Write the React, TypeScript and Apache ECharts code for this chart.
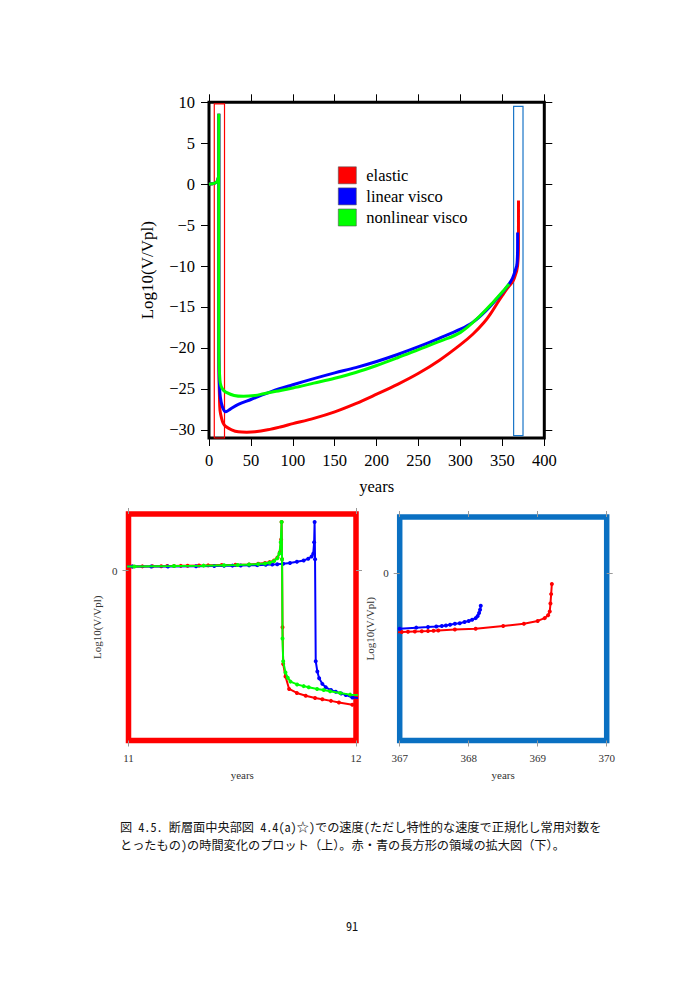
import React, { useEffect, useRef } from "react";
import * as echarts from "echarts";

// ---------------- data (years, log10(V/Vpl)) ----------------
const elasticYears = [0, 3, 6, 9, 10.5, 11.017, 11.061, 11.105, 11.144, 11.17, 11.2, 11.23, 11.26, 11.31, 11.35, 11.41, 11.47, 11.53, 11.57, 11.6, 11.62, 11.64, 11.655, 11.665, 11.671, 11.673, 11.675, 11.677, 11.68, 11.69, 11.706, 11.74, 11.779, 11.82, 11.852, 11.89, 11.925, 11.984, 12.5, 13.1, 15, 17, 20, 27, 35, 45, 55, 70, 85, 100, 125, 150, 175, 200, 225, 250, 275, 300, 315, 328, 336, 343.5, 350, 355.4, 360, 363.4, 367.03, 367.12, 367.22, 367.32, 367.41, 367.49, 367.56, 367.8, 368.1, 368.5, 368.8, 369.0, 369.1, 369.15, 369.175, 369.185, 369.195, 369.205];
const elasticLog = [0.0, 0.05, 0.1, 0.25, 0.5, 0.74, 0.75, 0.76, 0.78, 0.8, 0.82, 0.84, 0.86, 0.9, 0.93, 0.98, 1.03, 1.1, 1.2, 1.35, 1.5, 1.8, 2.3, 3.2, 5.5, 8.6, 2.0, -10.0, -16.5, -18.7, -20.9, -21.6, -22.1, -22.5, -22.7, -23.0, -23.3, -23.7, -26.0, -27.6, -28.6, -29.2, -29.6, -30.0, -30.25, -30.3, -30.25, -30.0, -29.65, -29.25, -28.6, -27.8, -26.8, -25.65, -24.45, -23.1, -21.5, -19.6, -18.3, -16.9, -15.8, -14.6, -13.6, -12.8, -12.2, -11.7, -10.6, -10.55, -10.5, -10.45, -10.4, -10.35, -10.3, -10.15, -10.0, -9.5, -9.1, -8.6, -8.1, -7.6, -6.9, -5.5, -3.8, -2.0];

const linearYears = [0, 3, 6, 9, 10.5, 11.017, 11.1, 11.173, 11.297, 11.377, 11.42, 11.457, 11.493, 11.53, 11.566, 11.603, 11.632, 11.654, 11.68, 11.71, 11.74, 11.77, 11.79, 11.805, 11.812, 11.816, 11.818, 11.82, 11.823, 11.83, 11.838, 11.852, 11.867, 11.89, 11.911, 11.935, 11.955, 11.984, 12.5, 13.5, 16, 20, 25, 35, 50, 75, 100, 125, 150, 175, 200, 225, 250, 275, 300, 315, 330, 343.5, 355, 362, 367.0, 367.24, 367.41, 367.53, 367.61, 367.67, 367.73, 367.8, 367.87, 367.94, 368.0, 368.05, 368.1, 368.13, 368.15, 368.165, 368.175];
const linearLog = [0.0, 0.05, 0.1, 0.25, 0.5, 0.74, 0.72, 0.72, 0.78, 0.82, 0.85, 0.88, 0.9, 0.93, 0.97, 1.02, 1.07, 1.12, 1.2, 1.35, 1.55, 1.8, 2.1, 2.5, 3.0, 5.0, 8.6, 2.0, -16.0, -17.8, -19.0, -20.0, -20.6, -21.1, -21.4, -21.7, -21.95, -22.4, -24.5, -26.0, -27.2, -27.8, -27.5, -26.9, -26.3, -25.3, -24.5, -23.75, -23.05, -22.4, -21.65, -20.8, -19.85, -18.8, -17.7, -16.85, -15.5, -14.0, -12.6, -11.5, -10.0, -9.8, -9.7, -9.6, -9.5, -9.4, -9.3, -9.1, -9.0, -8.8, -8.6, -8.4, -8.1, -7.7, -7.2, -6.6, -5.9];

const nonlinearYears = [0, 3, 6, 9, 10.5, 11.026, 11.2, 11.33, 11.42, 11.48, 11.53, 11.57, 11.6, 11.62, 11.64, 11.654, 11.663, 11.669, 11.673, 11.675, 11.677, 11.68, 11.69, 11.7, 11.712, 11.741, 11.77, 11.792, 11.829, 11.858, 11.886, 11.93, 11.974, 12.5, 13.5, 16, 20, 30, 41, 55, 65, 80, 100, 125, 150, 175, 200, 225, 250, 275, 300, 323, 340, 351.4, 358];
const nonlinearLog = [0.0, 0.05, 0.1, 0.25, 0.5, 0.74, 0.8, 0.88, 0.95, 1.0, 1.08, 1.15, 1.25, 1.4, 1.7, 2.2, 3.0, 5.0, 8.6, 2.0, -12.0, -16.0, -18.0, -18.9, -19.6, -20.1, -20.4, -20.6, -20.9, -21.1, -21.3, -21.6, -21.9, -23.0, -24.3, -25.0, -25.4, -25.8, -25.9, -25.8, -25.6, -25.3, -24.9, -24.3, -23.7, -23.0, -22.15, -21.2, -20.2, -19.2, -18.1, -16.1, -14.3, -13.0, -12.2];

const seriesNames = ["elastic", "linear visco", "nonlinear visco"];
const seriesColors = ["#ff0000", "#0000ff", "#00ff00"];

const mainYTicks = [10, 5, 0, -5, -10, -15, -20, -25, -30];

// zoomed boxes (years / log values)
const redBox = { x0: 6.3, x1: 18.5, y0: -31, y1: 9.8 };
const blueBox = { x0: 363.4, x1: 374.6, y0: -30.7, y1: 9.5 };

const captionLine1 = "図 4.5. 断層面中央部図 4.4(a)☆)での速度(ただし特性的な速度で正規化し常用対数を";
const captionLine2 = "とったもの)の時間変化のプロット（上）。赤・青の長方形の領域の拡大図（下）。";
const pageNumber = "91";

const zip = (xs: number[], ys: number[]) => xs.map((x, i) => [x, ys[i]]);

const SERIF = "'Liberation Serif', 'Times New Roman', serif";
const CJK = "'Noto Sans Mono CJK JP', 'Noto Sans CJK JP', monospace";
const minusFmt = (v: number) => String(v).replace("-", "\u2212");

export default function App() {
  const ref = useRef<HTMLDivElement>(null);

  useEffect(() => {
    if (!ref.current) return;
    const chart = echarts.init(ref.current, undefined, { renderer: "svg" });
    const allData = [zip(elasticYears, elasticLog), zip(linearYears, linearLog), zip(nonlinearYears, nonlinearLog)];

    const series: any[] = [];
    // main grid
    allData.forEach((d, i) => {
      const s: any = {
        type: "line",
        name: seriesNames[i],
        data: d,
        xAxisIndex: 0,
        yAxisIndex: 0,
        showSymbol: false,
        smooth: 0.35,
        color: seriesColors[i],
        lineStyle: { width: 3, color: seriesColors[i] },
        clip: true,
        z: 3 + i,
      };
      if (i === 0) {
        s.markArea = {
          silent: true,
          label: { show: false },
          data: [
            [
              { xAxis: redBox.x0, yAxis: redBox.y0, itemStyle: { color: "rgba(0,0,0,0)", borderColor: "#ff0000", borderWidth: 1.2 } },
              { xAxis: redBox.x1, yAxis: redBox.y1 },
            ],
            [
              { xAxis: blueBox.x0, yAxis: blueBox.y0, itemStyle: { color: "rgba(0,0,0,0)", borderColor: "#1a75c8", borderWidth: 1.2 } },
              { xAxis: blueBox.x1, yAxis: blueBox.y1 },
            ],
          ],
        };
      }
      series.push(s);
    });
    // zoom grids
    [1, 2].forEach((ax) => {
      allData.forEach((d, i) => {
        series.push({
          type: "line",
          name: seriesNames[i],
          data: d,
          xAxisIndex: ax,
          yAxisIndex: ax,
          showSymbol: true,
          showAllSymbol: true,
          symbol: "circle",
          symbolSize: 4,
          color: seriesColors[i],
          itemStyle: { color: seriesColors[i] },
          lineStyle: { width: 2, color: seriesColors[i] },
          clip: true,
          z: 3 + i,
        });
      });
    });

    const smallLabel = { fontFamily: SERIF, fontSize: 11, color: "#333" };
    const tickGray = { show: true, length: 6, lineStyle: { color: "#999", width: 1 } };
    const noLine = { show: false, onZero: false };
    const blackTick = { show: true, length: 8, lineStyle: { color: "#000", width: 1 } };

    const option: any = {
      animation: false,
      backgroundColor: "#ffffff",
      textStyle: { fontFamily: SERIF },
      legend: {
        data: seriesNames,
        orient: "vertical",
        left: 338,
        top: 166.5,
        padding: 0,
        icon: "rect",
        itemWidth: 18,
        itemHeight: 17,
        itemGap: 3.5,
        selectedMode: false,
        itemStyle: { borderColor: "#555", borderWidth: 0.6 },
        textStyle: { fontFamily: SERIF, fontSize: 16.5, color: "#000", padding: [0, 0, 0, 5] },
      },
      grid: [
        { left: 209, top: 102.3, width: 335.3, height: 335.7, show: true, borderColor: "#000", borderWidth: 3, backgroundColor: "transparent" },
        { left: 128.5, top: 514, width: 227.5, height: 226.5, show: true, borderColor: "#ff0000", borderWidth: 5.5, backgroundColor: "transparent" },
        { left: 399.7, top: 517, width: 207, height: 223.5, show: true, borderColor: "#0a70c2", borderWidth: 5.5, backgroundColor: "transparent" },
      ],
      xAxis: [
        {
          gridIndex: 0, type: "value", min: 0, max: 400, interval: 50, position: "bottom",
          name: "years", nameLocation: "middle", nameGap: 40,
          nameTextStyle: { fontFamily: SERIF, fontSize: 16.5, color: "#000" },
          axisLine: noLine,
          axisTick: blackTick,
          axisLabel: { fontFamily: SERIF, fontSize: 16.5, color: "#000", margin: 14 },
          splitLine: { show: false },
        },
        {
          gridIndex: 1, type: "value", min: 11, max: 12, interval: 1, position: "bottom",
          name: "years", nameLocation: "middle", nameGap: 29,
          nameTextStyle: smallLabel,
          axisLine: noLine,
          axisTick: tickGray,
          axisLabel: { ...smallLabel, margin: 12 },
          splitLine: { show: false },
        },
        {
          gridIndex: 2, type: "value", min: 367, max: 370, interval: 1, position: "bottom",
          name: "years", nameLocation: "middle", nameGap: 29,
          nameTextStyle: smallLabel,
          axisLine: noLine,
          axisTick: tickGray,
          axisLabel: { ...smallLabel, margin: 12 },
          splitLine: { show: false },
        },
        // top tick axes
        {
          gridIndex: 0, type: "value", min: 0, max: 400, interval: 50, position: "top",
          axisLine: noLine, axisLabel: { show: false }, splitLine: { show: false },
          axisTick: blackTick,
        },
        {
          gridIndex: 1, type: "value", min: 11, max: 12, interval: 1, position: "top",
          axisLine: noLine, axisLabel: { show: false }, splitLine: { show: false },
          axisTick: tickGray,
        },
        {
          gridIndex: 2, type: "value", min: 367, max: 370, interval: 1, position: "top",
          axisLine: noLine, axisLabel: { show: false }, splitLine: { show: false },
          axisTick: tickGray,
        },
      ],
      yAxis: [
        {
          gridIndex: 0, type: "value", min: -31, max: 10, position: "left",
          name: "Log10(V/Vpl)", nameLocation: "middle", nameGap: 53, nameRotate: 90,
          nameTextStyle: { fontFamily: SERIF, fontSize: 17, color: "#000" },
          axisLine: noLine,
          axisTick: { ...blackTick, customValues: mainYTicks },
          axisLabel: { fontFamily: SERIF, fontSize: 16.5, color: "#000", margin: 14, customValues: mainYTicks, formatter: minusFmt },
          splitLine: { show: false },
        },
        {
          gridIndex: 1, type: "value", min: -30, max: 10, position: "left",
          name: "Log10(V/Vpl)", nameLocation: "middle", nameGap: 26, nameRotate: 90,
          nameTextStyle: smallLabel,
          axisLine: noLine,
          axisTick: { ...tickGray, customValues: [0] },
          axisLabel: { ...smallLabel, margin: 11, customValues: [0] },
          splitLine: { show: false },
        },
        {
          gridIndex: 2, type: "value", min: -30, max: 10, position: "left",
          name: "Log10(V/Vpl)", nameLocation: "middle", nameGap: 24, nameRotate: 90,
          nameTextStyle: smallLabel,
          axisLine: noLine,
          axisTick: { ...tickGray, customValues: [0] },
          axisLabel: { ...smallLabel, margin: 11, customValues: [0] },
          splitLine: { show: false },
        },
        // right tick axes
        {
          gridIndex: 0, type: "value", min: -31, max: 10, position: "right",
          axisLine: noLine, axisLabel: { show: false }, splitLine: { show: false },
          axisTick: { ...blackTick, customValues: mainYTicks },
        },
        {
          gridIndex: 1, type: "value", min: -30, max: 10, position: "right",
          axisLine: noLine, axisLabel: { show: false }, splitLine: { show: false },
          axisTick: { ...tickGray, customValues: [0] },
        },
        {
          gridIndex: 2, type: "value", min: -30, max: 10, position: "right",
          axisLine: noLine, axisLabel: { show: false }, splitLine: { show: false },
          axisTick: { ...tickGray, customValues: [0] },
        },
      ],
      graphic: [
        { type: "text", left: 120, top: 821, style: { text: captionLine1, font: `12.2px ${CJK}`, fill: "#111" } },
        { type: "text", left: 120, top: 839, style: { text: captionLine2, font: `12.2px ${CJK}`, fill: "#111" } },
        { type: "text", left: 346, top: 920, style: { text: pageNumber, font: `12.2px ${CJK}`, fill: "#111" } },
      ],
      series,
    };
    chart.setOption(option);
    return () => chart.dispose();
  }, []);

  return (
    <div
      ref={ref}
      style={{ position: "absolute", left: 0, top: 0, width: 695, height: 983, background: "#fff" }}
    />
  );
}
